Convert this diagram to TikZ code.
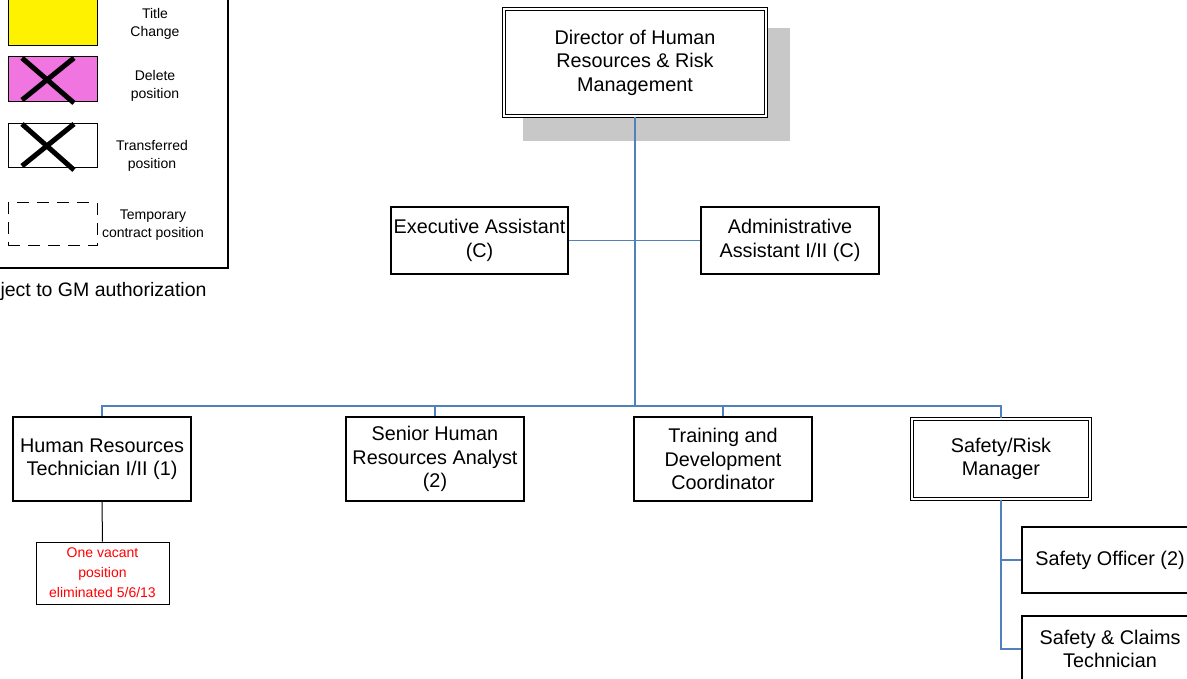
\documentclass[tikz,border=0pt]{standalone}
\usepackage{fontspec}
\setmainfont{Liberation Sans}
\usepackage{tikz}
\usetikzlibrary{positioning}
\definecolor{orgblue}{RGB}{79,129,189}
\definecolor{shadowgray}{RGB}{200,200,200}
\definecolor{delpink}{RGB}{240,117,224}

\tikzset{
  post/.style={draw, line width=1.2pt, fill=white, align=center,
    inner sep=0pt, font=\fontsize{19.8}{23.5}\selectfont},
  keypost/.style={post, double, double distance=2pt, line width=1.1pt},
  orgline/.style={draw=orgblue, line width=1.6pt},
  keytext/.style={align=center, font=\fontsize{14}{18}\selectfont},
  keycross/.style={line width=5pt}
}

\begin{document}
\begin{tikzpicture}[x=1pt, y=-1pt]
  \useasboundingbox (0,0) rectangle (1187,679);

  % legend
  \draw[line width=1.2pt] (-20,-20) rectangle (228,268);
  \node[draw, line width=1pt, fill=yellow, minimum width=89pt, minimum height=48pt] (kchange) at (52.5,22) {};
  \node[keytext] (tchange) at (155,24) {Title\\Change};
  \node[draw, line width=1pt, fill=delpink, minimum width=89pt, minimum height=45pt] (kdelete) at (52.5,79.5) {};
  \draw[keycross] (22,58) -- (74,103) (74,58) -- (22,100);
  \node[keytext] (tdelete) at (155,86) {Delete\\position};
  \node[draw, line width=1pt, minimum width=89pt, minimum height=44pt] (kmove) at (52.5,146) {};
  \draw[keycross] (22,124) -- (74,170) (74,124) -- (22,166);
  \node[keytext] (tmove) at (152,156) {Transferred\\position};
  \node[draw, dash pattern=on 12pt off 8pt, line width=1pt, minimum width=89pt, minimum height=43pt] (ktemp) at (52.5,224.5) {};
  \node[keytext] (ttemp) at (153,225) {Temporary\\contract position};
  \node[anchor=east, font=\fontsize{19.5}{23}\selectfont] (gmnote) at (210,291) {ject to GM authorization};

  % shadow under the director
  \fill[shadowgray] (523,28) rectangle (790,141);

  % positions
  \node[keypost, minimum width=262pt, minimum height=107pt] (dir) at (635,62.5)
    {Director of Human\\Resources \& Risk\\Management};
  \node[post, minimum width=177pt, minimum height=67pt] (exec) at (479.5,240.5)
    {Executive Assistant\\(C)};
  \node[post, minimum width=178pt, minimum height=67pt] (admin) at (790,240.5)
    {Administrative\\Assistant I/II (C)};
  \node[post, minimum width=178pt, minimum height=84pt] (hrtech) at (102,459)
    {Human Resources\\Technician I/II (1)};
  \node[post, minimum width=178pt, minimum height=84pt] (senior) at (435,459)
    {Senior Human\\Resources Analyst\\(2)};
  \node[post, minimum width=178pt, minimum height=84pt] (train) at (723,459)
    {Training and\\Development\\Coordinator};
  \node[keypost, minimum width=178pt, minimum height=80pt] (srm) at (1001,459)
    {Safety/Risk\\Manager};
  \node[post, minimum width=176pt, minimum height=66pt] (officer) at (1110,560)
    {Safety Officer (2)};
  \node[post, minimum width=176pt, minimum height=66pt] (claims) at (1110,649)
    {Safety \& Claims\\Technician};
  \node[draw, line width=0.8pt, fill=white, text=red, align=center, inner sep=0pt,
    minimum width=133pt, minimum height=62pt, font=\fontsize{14}{20}\selectfont]
    (vacant) at (102.5,573) {One vacant\\position\\eliminated 5/6/13};

  % connectors
  \coordinate (bus) at (635,406);
  \path[orgline]
  (dir.south) edge (bus)
  (exec.east) edge (admin.west)
  (senior.north) edge (senior.north |- bus)
  (train.north) edge (train.north |- bus);
  \draw[orgline] (hrtech.north) |- (bus) -| (srm.north);
  \draw[orgline] (srm.south) |- (officer.west);
  \draw[orgline] (srm.south) |- (claims.west);
  \draw[line width=1pt] (hrtech.south) -- (vacant.north);
\end{tikzpicture}
\end{document}
